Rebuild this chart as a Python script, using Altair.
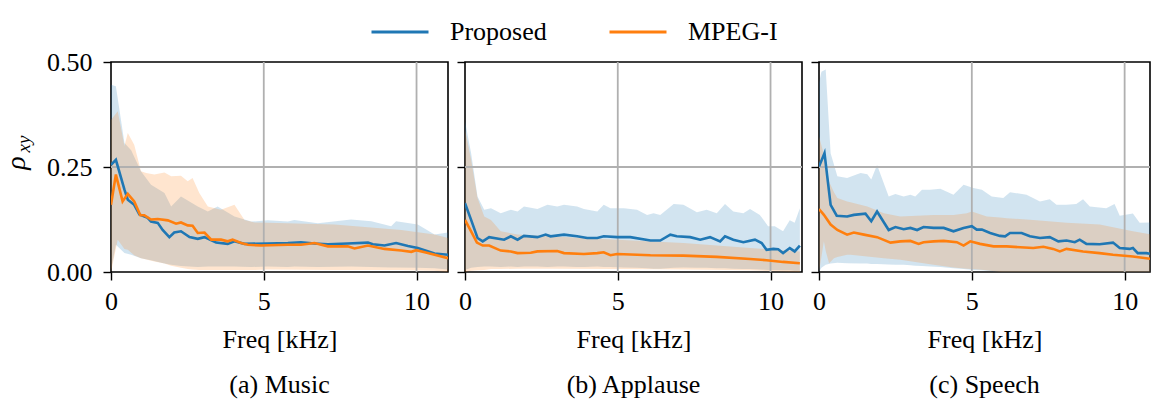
import altair as alt
import pandas as pd

FONT = "Liberation Serif"
FS = 26
BLUE = "#1f77b4"
ORANGE = "#ff7f0e"
GRID = "#b0b0b0"
SERIES = ["Proposed", "MPEG-I"]
PANEL_TITLES = ["(a) Music", "(b) Applause", "(c) Speech"]
X_MAX = [11.03, 11.03, 10.83]
WIDTHS = [337, 337, 331]
X_TICKS = [0, 5, 10]
Y_TICKS = [0, 0.25, 0.5]
X_GRID = [5, 10]
Y_GRID = [0.25]

# ---------------- (a) Music ----------------
MUSIC_PROP_F = [0, 0.16, 0.44, 0.55, 0.76, 0.93, 1.20, 1.31, 1.53, 1.69, 1.91, 2.07, 2.29, 2.57, 2.84, 3.06, 3.44,
                3.82, 4.04, 4.37, 5.13, 5.79, 6.22, 6.66, 7.10, 7.75, 8.41, 8.57, 8.95, 9.33, 9.72, 10.04, 10.59, 11.03]
MUSIC_PROP_V = [0.255, 0.267, 0.196, 0.172, 0.160, 0.137, 0.129, 0.120, 0.117, 0.100, 0.083, 0.094, 0.097, 0.083,
                0.079, 0.083, 0.070, 0.067, 0.073, 0.067, 0.068, 0.069, 0.071, 0.068, 0.066, 0.068, 0.070, 0.066,
                0.063, 0.069, 0.062, 0.057, 0.044, 0.041]
MUSIC_MPEG_F = [0, 0.16, 0.38, 0.55, 0.76, 0.96, 1.09, 1.31, 1.53, 1.86, 2.13, 2.29, 2.51, 2.67, 2.84, 3.06, 3.28,
                3.60, 3.82, 3.98, 4.26, 4.48, 4.91, 5.79, 6.22, 6.66, 7.10, 7.75, 7.97, 8.41, 8.95, 9.50, 9.83, 9.99,
                10.37, 11.03]
MUSIC_MPEG_V = [0.160, 0.232, 0.168, 0.186, 0.168, 0.135, 0.135, 0.125, 0.126, 0.123, 0.115, 0.118, 0.111, 0.110,
                0.093, 0.094, 0.077, 0.077, 0.073, 0.077, 0.069, 0.065, 0.063, 0.065, 0.065, 0.069, 0.061, 0.061,
                0.056, 0.063, 0.055, 0.051, 0.048, 0.052, 0.045, 0.033]
MUSIC_PROP_BAND_F = [0, 0.16, 0.44, 0.66, 0.98, 1.31, 1.75, 1.97, 2.29, 2.84, 3.17, 3.49, 4.04, 4.59, 5.13, 5.79,
                     6.00, 6.77, 7.86, 8.52, 9.17, 9.33, 10.04, 10.59, 11.03]
MUSIC_PROP_HI = [0.446, 0.442, 0.307, 0.290, 0.240, 0.208, 0.188, 0.156, 0.180, 0.156, 0.144, 0.156, 0.132, 0.120,
                 0.123, 0.120, 0.124, 0.116, 0.125, 0.121, 0.109, 0.121, 0.113, 0.089, 0.094]
MUSIC_PROP_LO = [0.005, 0.065, 0.045, 0.041, 0.033, 0.028, 0.020, 0.017, 0.014, 0.012, 0.013, 0.013, 0.013, 0.012,
                 0.013, 0.012, 0.013, 0.012, 0.013, 0.012, 0.011, 0.011, 0.010, 0.009, 0.006]
MUSIC_MPEG_BAND_F = [0, 0.22, 0.44, 0.55, 0.76, 0.98, 1.15, 1.42, 1.75, 1.97, 2.29, 2.51, 2.67, 2.89, 3.17, 3.60,
                     4.04, 4.37, 4.70, 5.13, 7.31, 9.50, 10.59, 11.03]
MUSIC_MPEG_HI = [0.362, 0.383, 0.300, 0.331, 0.303, 0.240, 0.236, 0.232, 0.237, 0.228, 0.229, 0.216, 0.224, 0.188,
                 0.156, 0.148, 0.160, 0.124, 0.118, 0.117, 0.113, 0.100, 0.089, 0.081]
MUSIC_MPEG_LO = [0.000, 0.077, 0.055, 0.053, 0.040, 0.033, 0.030, 0.025, 0.020, 0.015, 0.010, 0.007, 0.006, 0.005,
                 0.005, 0.005, 0.005, 0.005, 0.005, 0.006, 0.005, 0.005, 0.003, 0.000]

# ---------------- (b) Applause ----------------
APPL_PROP_F = [0, 0.20, 0.41, 0.58, 0.79, 1.28, 1.50, 1.72, 1.93, 2.37, 2.64, 2.80, 3.24, 3.67, 4.00, 4.33, 4.54,
               4.98, 5.41, 6.07, 6.39, 6.72, 6.93, 7.37, 7.70, 8.02, 8.35, 8.51, 8.78, 9.11, 9.49, 9.71, 9.87, 10.09,
               10.25, 10.41, 10.63, 10.79, 10.96]
APPL_PROP_V = [0.164, 0.124, 0.081, 0.073, 0.083, 0.077, 0.085, 0.077, 0.086, 0.083, 0.089, 0.085, 0.089, 0.085,
               0.081, 0.081, 0.085, 0.083, 0.083, 0.075, 0.075, 0.089, 0.085, 0.083, 0.077, 0.083, 0.073, 0.085,
               0.077, 0.071, 0.077, 0.069, 0.053, 0.055, 0.054, 0.045, 0.057, 0.049, 0.063]
APPL_MPEG_F = [0, 0.20, 0.39, 0.58, 0.79, 1.17, 1.50, 1.72, 2.15, 2.37, 3.02, 3.24, 3.89, 4.33, 4.54, 4.76, 4.98,
               6.07, 7.15, 8.24, 9.33, 9.87, 10.41, 10.96]
APPL_MPEG_V = [0.124, 0.097, 0.070, 0.063, 0.063, 0.051, 0.049, 0.045, 0.046, 0.049, 0.050, 0.045, 0.043, 0.045,
               0.047, 0.040, 0.043, 0.040, 0.039, 0.036, 0.031, 0.028, 0.024, 0.021]
APPL_PROP_BAND_F = [0, 0.20, 0.41, 0.63, 0.85, 1.17, 1.50, 1.72, 1.93, 2.37, 2.70, 3.02, 3.24, 3.67, 3.89, 4.33,
                    4.54, 4.76, 5.20, 5.63, 5.96, 6.17, 6.39, 6.83, 7.15, 7.59, 7.91, 8.24, 8.51, 8.78, 9.11, 9.33,
                    9.65, 9.92, 10.14, 10.41, 10.63, 10.79, 10.96]
APPL_PROP_HI = [0.359, 0.283, 0.180, 0.148, 0.152, 0.140, 0.148, 0.144, 0.156, 0.150, 0.160, 0.156, 0.160, 0.156,
                0.150, 0.144, 0.160, 0.152, 0.152, 0.148, 0.136, 0.140, 0.136, 0.162, 0.160, 0.142, 0.148, 0.140,
                0.162, 0.144, 0.140, 0.150, 0.136, 0.109, 0.109, 0.097, 0.123, 0.117, 0.152]
APPL_PROP_LO = [0.005, 0.010, 0.012, 0.013, 0.013, 0.012, 0.013, 0.012, 0.013, 0.013, 0.012, 0.013, 0.013, 0.012,
                0.012, 0.013, 0.012, 0.012, 0.011, 0.010, 0.009, 0.008, 0.008, 0.010, 0.011, 0.010, 0.010, 0.009,
                0.009, 0.008, 0.007, 0.007, 0.006, 0.005, 0.005, 0.004, 0.004, 0.003, 0.003]
APPL_MPEG_BAND_F = [0, 0.20, 0.41, 0.63, 0.85, 1.17, 1.72, 2.80, 4.98, 7.15, 9.33, 10.96]
APPL_MPEG_HI = [0.339, 0.267, 0.176, 0.132, 0.124, 0.097, 0.089, 0.085, 0.077, 0.069, 0.057, 0.049]
APPL_MPEG_LO = [0.000, 0.003, 0.004, 0.005, 0.007, 0.007, 0.008, 0.008, 0.007, 0.006, 0.004, 0.000]

# ---------------- (c) Speech ----------------
SPEECH_PROP_F = [0, 0.18, 0.38, 0.58, 0.92, 1.14, 1.52, 1.71, 1.90, 2.28, 2.50, 2.77, 2.99, 3.21, 3.42, 3.75, 4.08,
                 4.40, 4.73, 5.00, 5.16, 5.33, 5.60, 5.92, 6.09, 6.25, 6.63, 6.90, 7.23, 7.55, 7.83, 8.10, 8.37,
                 8.53, 8.75, 9.18, 9.62, 9.84, 10.16, 10.27, 10.43, 10.71, 10.88]
SPEECH_PROP_V = [0.251, 0.283, 0.160, 0.134, 0.132, 0.136, 0.139, 0.121, 0.144, 0.100, 0.107, 0.102, 0.105, 0.100,
                 0.107, 0.105, 0.105, 0.097, 0.105, 0.109, 0.101, 0.101, 0.093, 0.086, 0.085, 0.093, 0.093, 0.085,
                 0.081, 0.083, 0.073, 0.075, 0.071, 0.077, 0.067, 0.066, 0.070, 0.057, 0.055, 0.057, 0.045, 0.045,
                 0.043]
SPEECH_MPEG_F = [0, 0.16, 0.38, 0.60, 0.92, 1.14, 1.47, 1.90, 2.34, 2.66, 2.99, 3.26, 3.42, 3.75, 4.08, 4.51, 4.73,
                 4.95, 5.27, 5.71, 6.14, 6.58, 7.01, 7.34, 7.66, 7.88, 8.10, 8.64, 9.18, 9.62, 10.27, 10.88]
SPEECH_MPEG_V = [0.150, 0.136, 0.113, 0.100, 0.089, 0.094, 0.089, 0.083, 0.070, 0.073, 0.074, 0.067, 0.071, 0.073,
                 0.074, 0.071, 0.063, 0.073, 0.067, 0.061, 0.061, 0.059, 0.057, 0.060, 0.055, 0.049, 0.055, 0.049,
                 0.045, 0.041, 0.037, 0.031]
SPEECH_PROP_BAND_F = [0, 0.08, 0.22, 0.38, 0.60, 0.92, 1.36, 1.58, 1.71, 1.90, 2.28, 2.50, 2.77, 2.99, 3.15, 3.37,
                      3.64, 3.97, 4.40, 4.73, 5.05, 5.33, 5.65, 6.03, 6.25, 6.79, 7.23, 7.55, 7.77, 8.10, 8.42, 8.64,
                      8.86, 9.40, 9.67, 9.84, 10.27, 10.49, 10.88]
SPEECH_PROP_HI = [0.450, 0.477, 0.482, 0.283, 0.228, 0.224, 0.236, 0.233, 0.220, 0.255, 0.180, 0.186, 0.180, 0.184,
                  0.180, 0.196, 0.196, 0.198, 0.184, 0.208, 0.200, 0.196, 0.180, 0.176, 0.190, 0.184, 0.168, 0.173,
                  0.160, 0.160, 0.162, 0.173, 0.156, 0.152, 0.162, 0.134, 0.139, 0.117, 0.118]
SPEECH_PROP_LO = [0.000, 0.010, 0.017, 0.020, 0.022, 0.021, 0.020, 0.020, 0.019, 0.019, 0.018, 0.017, 0.017, 0.016,
                  0.015, 0.014, 0.013, 0.012, 0.009, 0.007, 0.005, 0.004, 0.002, 0.000, 0.000, 0.000, 0.000, 0.000,
                  0.000, 0.000, 0.000, 0.000, 0.000, 0.000, 0.000, 0.000, 0.000, 0.000, 0.000]
SPEECH_MPEG_BAND_F = [0, 0.16, 0.22, 0.33, 0.49, 0.60, 0.92, 1.03, 1.58, 2.12, 2.66, 3.75, 4.40, 4.84, 5.00, 5.49,
                      5.92, 6.14, 7.01, 8.10, 9.18, 10.27, 10.88]
SPEECH_MPEG_HI = [0.323, 0.280, 0.260, 0.215, 0.190, 0.176, 0.168, 0.166, 0.156, 0.140, 0.132, 0.136, 0.136, 0.140,
                  0.144, 0.132, 0.130, 0.128, 0.124, 0.117, 0.113, 0.097, 0.089]
SPEECH_MPEG_LO = [0.000, 0.073, 0.050, 0.021, 0.033, 0.036, 0.041, 0.041, 0.037, 0.033, 0.029, 0.017, 0.011, 0.008,
                  0.007, 0.004, 0.000, 0.000, 0.000, 0.000, 0.000, 0.000, 0.000]

PANELS = [
    (MUSIC_PROP_F, MUSIC_PROP_V, MUSIC_MPEG_F, MUSIC_MPEG_V,
     MUSIC_PROP_BAND_F, MUSIC_PROP_HI, MUSIC_PROP_LO, MUSIC_MPEG_BAND_F, MUSIC_MPEG_HI, MUSIC_MPEG_LO),
    (APPL_PROP_F, APPL_PROP_V, APPL_MPEG_F, APPL_MPEG_V,
     APPL_PROP_BAND_F, APPL_PROP_HI, APPL_PROP_LO, APPL_MPEG_BAND_F, APPL_MPEG_HI, APPL_MPEG_LO),
    (SPEECH_PROP_F, SPEECH_PROP_V, SPEECH_MPEG_F, SPEECH_MPEG_V,
     SPEECH_PROP_BAND_F, SPEECH_PROP_HI, SPEECH_PROP_LO, SPEECH_MPEG_BAND_F, SPEECH_MPEG_HI, SPEECH_MPEG_LO),
]


def make_panel(i):
    pf, pv, mf, mv, pbf, pbh, pbl, mbf, mbh, mbl = PANELS[i]
    xs = alt.Scale(domain=[0, X_MAX[i]], nice=False, zero=False)
    ys = alt.Scale(domain=[0, 0.5], nice=False)
    xaxis = alt.Axis(values=X_TICKS, format="d", title="Freq [kHz]", grid=False, domain=False,
                     tickSize=8, tickWidth=1.4, tickColor="black", labelPadding=8, titlePadding=12,
                     labelFlush=False, labelFont=FONT, labelFontSize=FS, titleFont=FONT, titleFontSize=FS,
                     titleFontWeight="normal", labelColor="black", titleColor="black")
    if i == 0:
        yaxis = alt.Axis(values=Y_TICKS, format=".2f", title="", grid=False, domain=False,
                         tickSize=8, tickWidth=1.4, tickColor="black", labelPadding=11,
                         labelFont=FONT, labelFontSize=FS, labelColor="black")
    else:
        yaxis = alt.Axis(values=Y_TICKS, labels=False, title="", grid=False, domain=False,
                         tickSize=8, tickWidth=1.4, tickColor="black")

    band_p = pd.DataFrame({"f": pbf, "hi": pbh, "lo": pbl})
    band_m = pd.DataFrame({"f": mbf, "hi": mbh, "lo": mbl})
    lines = pd.concat([
        pd.DataFrame({"f": pf, "v": pv, "series": SERIES[0]}),
        pd.DataFrame({"f": mf, "v": mv, "series": SERIES[1]}),
    ])

    a1 = alt.Chart(band_p).mark_area(color=BLUE, opacity=0.2, clip=True).encode(
        x=alt.X("f:Q", scale=xs, axis=xaxis),
        y=alt.Y("hi:Q", scale=ys, axis=yaxis),
        y2="lo:Q",
    )
    a2 = alt.Chart(band_m).mark_area(color=ORANGE, opacity=0.2, clip=True).encode(
        x=alt.X("f:Q", scale=xs, axis=xaxis),
        y=alt.Y("hi:Q", scale=ys, axis=yaxis),
        y2="lo:Q",
    )
    gx = alt.Chart(pd.DataFrame({"g": X_GRID})).mark_rule(color=GRID, strokeWidth=1.8).encode(
        x=alt.X("g:Q", scale=xs, axis=xaxis))
    gy = alt.Chart(pd.DataFrame({"g": Y_GRID})).mark_rule(color=GRID, strokeWidth=1.8).encode(
        y=alt.Y("g:Q", scale=ys, axis=yaxis))
    ln = alt.Chart(lines).mark_line(strokeWidth=2.6, clip=True).encode(
        x=alt.X("f:Q", scale=xs, axis=xaxis),
        y=alt.Y("v:Q", scale=ys, axis=yaxis),
        color=alt.Color("series:N", scale=alt.Scale(domain=SERIES, range=[BLUE, ORANGE]),
                        sort=SERIES, title=None,
                        legend=alt.Legend(orient="none", legendX=259, legendY=-60, direction="horizontal",
                                          symbolType="M-1,0H1", symbolSize=3249, symbolStrokeWidth=2.8,
                                          labelFont=FONT, labelFontSize=FS, labelOffset=20,
                                          columnPadding=56, labelColor="black")),
    )
    layers = [a1, a2, gx, gy, ln]
    if i == 0:
        rho = alt.Chart(pd.DataFrame({"t": ["ρ"]})).mark_text(
            font=FONT, fontSize=28, fontStyle="italic", angle=270, align="center", baseline="alphabetic",
            color="black").encode(text="t:N", x=alt.value(-86), y=alt.value(101))
        sub = alt.Chart(pd.DataFrame({"t": ["xy"]})).mark_text(
            font=FONT, fontSize=19, fontStyle="italic", angle=270, align="center", baseline="alphabetic",
            color="black").encode(text="t:N", x=alt.value(-81), y=alt.value(82))
        layers += [rho, sub]
    return alt.layer(*layers).properties(
        width=WIDTHS[i], height=210,
        title=alt.TitleParams(PANEL_TITLES[i], orient="bottom", anchor="middle", font=FONT, fontSize=FS,
                              fontWeight="normal", color="black", offset=20),
    )


chart = alt.hconcat(*[make_panel(i) for i in range(3)], spacing=17, bounds="flush").properties(
    padding={"left": 2, "top": 2, "right": 0, "bottom": 0}
).configure_view(stroke="black", strokeWidth=1.6)

chart.save("out.html", embed_options={"renderer": "svg", "actions": False})
